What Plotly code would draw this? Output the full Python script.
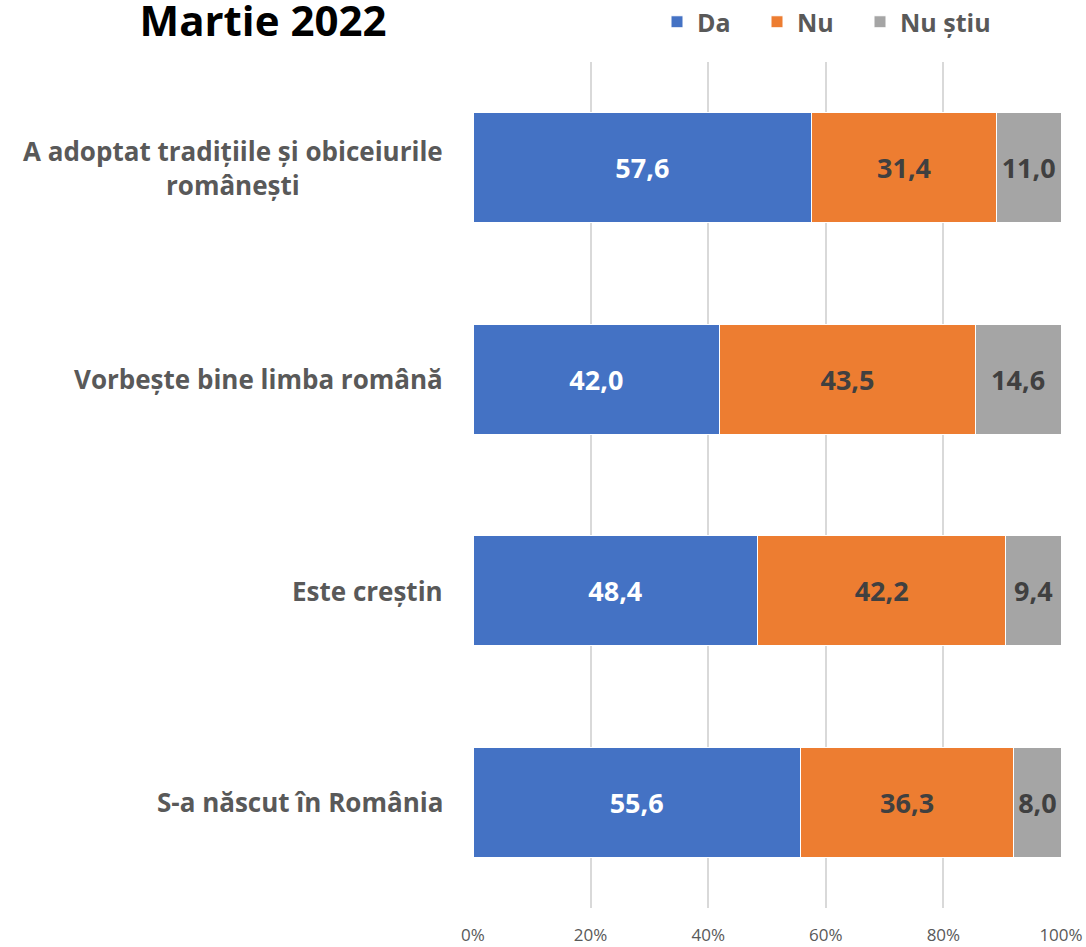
import plotly.graph_objects as go

# Survey items, top to bottom
categories = [
    "A adoptat tradițiile și obiceiurile<br>românești",
    "Vorbește bine limba română",
    "Este creștin",
    "S-a născut în România",
]
da = [57.6, 42.0, 48.4, 55.6]
nu = [31.4, 43.5, 42.2, 36.3]
nu_stiu = [11.0, 14.6, 9.4, 8.0]
series_names = ["Da", "Nu", "Nu știu"]
x_tick_vals = [0, 20, 40, 60, 80, 100]
x_tick_text = ["0%", "20%", "40%", "60%", "80%", "100%"]

colors = ["#4472C4", "#ED7D31", "#A5A5A5"]
label_colors = ["#FFFFFF", "#404040", "#404040"]
# one legend box per series so each entry can be placed on its own
legend_ids = ["legend", "legend2", "legend3"]
legend_x_px = [657, 757, 860]

W, H = 1086, 947

def fmt(v):
    return f"{v:.1f}".replace(".", ",")

fig = go.Figure()
for name, vals, col, lcol, lid in zip(series_names, [da, nu, nu_stiu], colors, label_colors, legend_ids):
    fig.add_trace(go.Bar(
        y=categories,
        x=vals,
        name=name,
        orientation="h",
        legend=lid,
        marker=dict(color=col, line=dict(color="#FFFFFF", width=1)),
        text=[fmt(v) for v in vals],
        textposition="inside",
        insidetextanchor="middle",
        constraintext="none",
        textfont=dict(family="Open Sans", size=27, color=lcol, weight="bold"),
        cliponaxis=False,
    ))

# Category labels, each line centred
for cat in categories:
    fig.add_annotation(
        x=0, xref="paper", xanchor="right", xshift=-28,
        y=cat, yref="y", yanchor="middle",
        text=cat, align="center", showarrow=False,
        font=dict(family="Open Sans", size=26, color="#595959", weight="bold"),
    )

legend_style = dict(
    orientation="h",
    xref="container", yref="container",
    xanchor="left", yanchor="middle",
    y=1 - 22 / H,
    font=dict(family="Open Sans", size=25, color="#595959", weight="bold"),
    bgcolor="rgba(0,0,0,0)",
    itemwidth=30,
)
legends = {}
for lid, px in zip(legend_ids, legend_x_px):
    legends[lid] = dict(legend_style, x=px / W)

fig.update_layout(
    width=W, height=H,
    margin=dict(l=473, r=25, t=62, b=39, autoexpand=False),
    barmode="stack",
    barnorm="percent",
    bargap=0.48,
    plot_bgcolor="#FFFFFF",
    paper_bgcolor="#FFFFFF",
    title=dict(
        text="Martie 2022",
        x=263 / W, xanchor="center", xref="container",
        y=1 - 21 / H, yanchor="middle", yref="container",
        font=dict(family="Open Sans", size=42, color="#000000", weight="bold"),
    ),
    xaxis=dict(
        range=[0, 100],
        tickvals=x_tick_vals,
        ticktext=x_tick_text,
        showgrid=True,
        gridcolor="#D9D9D9",
        gridwidth=1.5,
        zeroline=False,
        showline=False,
        ticks="outside",
        ticklen=12,
        tickcolor="rgba(0,0,0,0)",
        tickfont=dict(family="Open Sans", size=17, color="#595959"),
        fixedrange=True,
    ),
    yaxis=dict(
        autorange="reversed",
        showticklabels=False,
        showgrid=False,
        zeroline=False,
        showline=False,
        fixedrange=True,
    ),
    showlegend=True,
    **legends,
)

fig.write_html("out.html")
